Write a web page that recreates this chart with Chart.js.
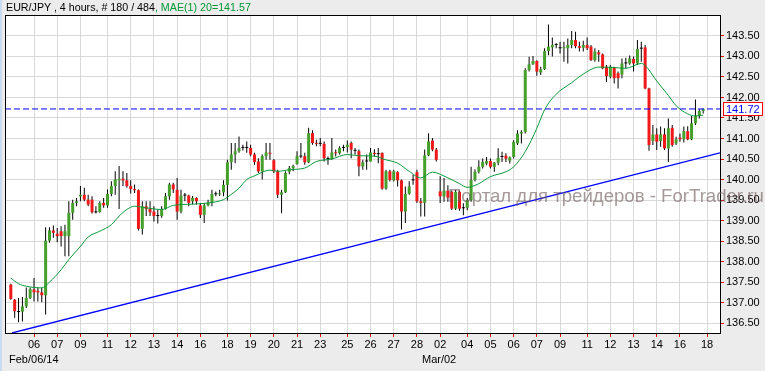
<!DOCTYPE html>
<html>
<head>
<meta charset="utf-8">
<script src="https://cdn.jsdelivr.net/npm/chart.js@4.4.1/dist/chart.umd.min.js"></script>
<style>
  body { margin: 0; background: #ececec; }
  #wrap { position: relative; width: 765px; height: 371px; overflow: hidden; font-family: "Liberation Sans", Arial, sans-serif; }
  #chart { position: absolute; left: 0; top: 0; }
  .txt { position: absolute; font-size: 11px; line-height: 14px; white-space: nowrap; color: #000; }
  #strip { position: absolute; left: 0; top: 0; width: 2px; height: 371px; background: #c8dbf0; }
  #mark { position: absolute; left: 448px; top: 186px; font-size: 18.6px; line-height: 19px; white-space: nowrap; color: rgba(110, 90, 90, 0.62); pointer-events: none; }
</style>
</head>
<body>
<div id="wrap">
  <canvas id="chart" width="765" height="371"></canvas>
  <div id="strip"></div>
  <div class="txt" style="left:6px; top:0px; font-size:10.7px;">EUR/JPY , 4 hours, # 180 / 484<span style="color:#009933">, MAE(1) 20=141.57</span></div>
  <div class="txt" style="left:9px; top:352px;">Feb/06/14</div>
  <div class="txt" style="left:422px; top:352px;">Mar/02</div>
  <div id="mark">Портал для трейдеров - ForTrader.ru</div>
</div>
<script>
// EUR/JPY 4h bars (bar index 0..179)
const opens = [
  137.44, 137.07, 136.77, 136.78, 136.91, 137.11, 137.32, 137.29, 137.25, 137.18,
  138.51, 138.76, 138.68, 138.74, 138.62, 138.62, 139.19, 139.43, 139.59, 139.63,
  139.51, 139.51, 139.21, 139.21, 139.43, 139.37, 139.65, 139.84, 139.98, 140.02,
  139.98, 139.84, 139.77, 139.74, 138.80, 139.35, 139.28, 139.22, 139.11, 139.11,
  139.28, 139.59, 139.88, 139.75, 139.22, 139.61, 139.61, 139.47, 139.55, 139.37,
  139.14, 139.37, 139.44, 139.65, 139.64, 139.69, 139.87, 140.42, 140.61, 140.69,
  140.77, 140.78, 140.77, 140.61, 140.44, 140.20, 140.57, 140.65, 140.47, 140.20,
  139.63, 139.69, 140.19, 140.28, 140.38, 140.57, 140.57, 140.42, 141.13, 140.89,
  140.87, 140.87, 140.50, 140.50, 140.66, 140.64, 140.77, 140.79, 140.89, 140.71,
  140.69, 140.32, 140.44, 140.44, 140.65, 140.63, 140.65, 139.78, 140.20, 139.98,
  140.18, 139.98, 139.22, 139.65, 139.98, 140.18, 139.47, 139.43, 140.59, 140.95,
  140.73, 139.71, 139.59, 139.73, 139.70, 139.29, 139.70, 139.31, 139.31, 139.50,
  139.99, 140.19, 140.31, 140.39, 140.45, 140.31, 140.41, 140.55, 140.58, 140.46,
  140.55, 140.88, 141.12, 141.16, 142.67, 142.81, 142.89, 142.61, 142.69, 143.13,
  143.22, 143.28, 143.20, 143.20, 143.20, 143.28, 143.40, 143.25, 143.21, 143.28,
  143.24, 142.91, 143.10, 143.05, 142.75, 142.51, 142.73, 142.59, 142.56, 142.83,
  142.83, 142.94, 142.83, 143.19, 143.22, 142.22, 140.94, 141.10, 140.94, 141.10,
  140.76, 141.26, 140.88, 141.02, 140.98, 141.18, 140.98, 141.37, 141.55, 141.67
];
const highs = [
  137.46, 137.09, 137.11, 137.14, 137.37, 137.37, 137.60, 137.37, 137.36, 138.84,
  138.84, 138.88, 138.82, 138.86, 138.90, 139.47, 139.51, 139.55, 139.84, 139.80,
  139.63, 139.59, 139.35, 139.47, 139.55, 139.76, 139.96, 140.20, 140.33, 140.20,
  140.16, 139.98, 139.88, 139.76, 139.47, 139.47, 139.47, 139.35, 139.27, 139.35,
  139.67, 139.92, 139.92, 140.04, 139.75, 139.67, 139.63, 139.60, 139.57, 139.43,
  139.43, 139.51, 139.75, 139.71, 139.75, 139.98, 140.48, 140.89, 140.89, 141.05,
  140.85, 140.93, 140.85, 140.65, 140.52, 140.61, 140.89, 140.89, 140.50, 140.24,
  139.75, 140.20, 140.33, 140.36, 140.69, 140.89, 140.65, 141.26, 141.20, 140.97,
  141.01, 140.93, 140.56, 141.01, 140.73, 140.81, 140.85, 140.95, 140.93, 140.77,
  140.73, 140.48, 140.61, 140.77, 140.74, 140.77, 140.66, 140.24, 140.24, 140.24,
  140.20, 140.00, 139.83, 139.96, 140.12, 140.24, 139.55, 140.73, 141.13, 141.01,
  140.77, 140.08, 140.04, 139.86, 139.73, 139.75, 139.73, 139.42, 139.55, 140.31,
  140.25, 140.47, 140.51, 140.55, 140.51, 140.43, 140.76, 140.68, 140.64, 140.56,
  140.96, 141.20, 141.20, 142.71, 142.99, 143.01, 142.91, 142.75, 143.20, 143.78,
  143.46, 143.32, 143.36, 143.36, 143.44, 143.62, 143.60, 143.36, 143.38, 143.46,
  143.28, 143.20, 143.16, 143.07, 142.79, 142.79, 142.75, 142.63, 142.95, 142.97,
  143.02, 143.00, 143.40, 143.36, 143.28, 142.24, 141.33, 141.25, 141.29, 141.25,
  141.49, 141.33, 141.04, 141.12, 141.29, 141.30, 141.55, 141.95, 141.71, 141.73
];
const lows = [
  137.07, 136.63, 136.52, 136.54, 136.87, 137.09, 137.03, 137.03, 137.01, 136.71,
  138.46, 138.58, 138.47, 138.37, 138.13, 138.13, 139.02, 139.35, 139.47, 139.47,
  139.35, 139.17, 139.17, 139.19, 139.31, 139.31, 139.59, 139.63, 139.28, 139.84,
  139.80, 139.66, 139.67, 138.76, 138.66, 139.11, 139.11, 138.98, 138.93, 139.07,
  139.27, 139.51, 139.67, 139.02, 139.18, 139.47, 139.35, 139.40, 139.39, 139.06,
  138.94, 139.35, 139.35, 139.59, 139.60, 139.59, 139.49, 140.24, 140.40, 140.65,
  140.71, 140.65, 140.57, 140.36, 140.16, 140.00, 140.48, 140.48, 140.16, 139.55,
  139.18, 139.67, 140.13, 140.20, 140.36, 140.52, 140.36, 140.40, 140.85, 140.81,
  140.81, 140.44, 140.36, 140.48, 140.56, 140.61, 140.69, 140.66, 140.52, 140.61,
  140.08, 140.24, 140.24, 140.44, 140.56, 140.40, 139.75, 139.75, 139.95, 139.95,
  139.83, 138.78, 138.94, 139.63, 139.87, 139.43, 139.10, 139.10, 140.57, 140.69,
  140.44, 139.43, 139.46, 139.46, 139.26, 139.26, 139.24, 139.13, 139.25, 139.46,
  139.95, 140.15, 140.27, 140.35, 140.27, 140.19, 140.35, 140.43, 140.43, 140.39,
  140.51, 140.84, 140.88, 141.12, 142.63, 142.79, 142.53, 142.55, 142.67, 143.03,
  143.00, 143.20, 143.07, 142.87, 142.83, 143.20, 143.20, 143.12, 143.12, 143.16,
  142.89, 142.87, 142.87, 142.69, 142.38, 142.47, 142.34, 142.22, 142.47, 142.71,
  142.80, 142.63, 142.79, 142.87, 142.20, 140.70, 140.84, 140.72, 140.80, 140.72,
  140.43, 140.80, 140.84, 140.92, 140.90, 140.96, 140.96, 141.33, 141.49, 141.61
];
const closes = [
  137.09, 136.79, 136.78, 136.91, 137.11, 137.33, 137.25, 137.25, 137.18, 138.51,
  138.76, 138.70, 138.62, 138.62, 138.74, 139.19, 139.43, 139.47, 139.63, 139.51,
  139.39, 139.20, 139.20, 139.43, 139.37, 139.65, 139.84, 140.00, 140.02, 139.98,
  139.84, 139.77, 139.74, 138.80, 139.35, 139.28, 139.20, 139.11, 139.11, 139.28,
  139.59, 139.88, 139.76, 139.22, 139.61, 139.62, 139.43, 139.55, 139.47, 139.14,
  139.37, 139.44, 139.65, 139.64, 139.66, 139.87, 140.42, 140.61, 140.69, 140.77,
  140.78, 140.77, 140.61, 140.43, 140.20, 140.57, 140.66, 140.63, 140.20, 139.63,
  139.69, 140.16, 140.28, 140.33, 140.57, 140.56, 140.42, 141.13, 140.89, 140.87,
  140.88, 140.52, 140.51, 140.66, 140.64, 140.77, 140.78, 140.85, 140.73, 140.70,
  140.32, 140.42, 140.45, 140.66, 140.62, 140.62, 139.78, 140.20, 139.99, 140.20,
  139.98, 139.22, 139.65, 139.83, 139.99, 139.47, 139.43, 140.59, 140.93, 140.73,
  140.48, 139.59, 139.73, 139.56, 139.29, 139.70, 139.29, 139.30, 139.50, 139.99,
  140.19, 140.31, 140.43, 140.45, 140.31, 140.41, 140.53, 140.56, 140.51, 140.54,
  140.92, 141.12, 141.16, 142.67, 142.81, 142.89, 142.63, 142.69, 143.13, 143.24,
  143.28, 143.29, 143.21, 143.22, 143.28, 143.40, 143.25, 143.21, 143.28, 143.20,
  142.91, 143.12, 143.05, 142.71, 142.52, 142.75, 142.47, 142.47, 142.83, 142.84,
  142.95, 142.83, 143.18, 143.20, 142.22, 140.84, 141.10, 140.92, 141.10, 140.76,
  141.25, 140.84, 140.98, 140.98, 141.18, 140.98, 141.37, 141.55, 141.67, 141.72
];

// 20-period moving average, sampled along the line
const maBars = [0, 2, 4, 8, 10, 13, 15, 18, 20, 23, 26, 28, 30, 32, 35, 39, 42, 47, 51, 55, 56, 59, 61, 63, 67,
  69, 72, 76, 79, 83, 87, 90, 94, 97, 100, 103, 106, 109, 113, 116, 118, 121, 124, 128, 130, 133, 136, 138,
  141, 145, 148, 152, 156, 159, 163, 164, 167, 170, 172, 175, 177, 179];
const maValues = [137.60, 137.46, 137.40, 137.36, 137.50, 137.80, 138.05, 138.37, 138.60, 138.74, 138.90, 139.11,
  139.27, 139.35, 139.31, 139.27, 139.37, 139.40, 139.43, 139.51, 139.57, 139.79, 140.00, 140.09, 140.23,
  140.20, 140.24, 140.28, 140.44, 140.50, 140.61, 140.58, 140.57, 140.48, 140.40, 140.20, 140.04, 140.18,
  140.04, 139.90, 139.81, 139.90, 140.07, 140.19, 140.31, 140.68, 141.25, 141.70, 142.08, 142.36, 142.57,
  142.74, 142.73, 142.71, 142.83, 142.78, 142.40, 142.05, 141.80, 141.60, 141.55, 141.57];

// trend line end points and horizontal level
const trendBars = [0.3, 183.35];
const trendPrices = [136.26, 140.65];
const levelPrice = 141.72;

// axis ticks
const dayTickBars = [6, 12, 18, 25, 31, 37, 43, 49, 56, 62, 68, 74, 80, 87, 93, 99, 105, 111,
  118, 124, 130, 136, 142, 149, 155, 161, 167, 173, 180];
const dayTickLabels = ['06', '07', '09', '11', '12', '13', '14', '16', '18', '19', '20', '21', '23', '25', '26',
  '27', '28', '02', '04', '05', '06', '07', '09', '11', '12', '13', '14', '16', '18'];
const priceTicks = [136.5, 137.0, 137.5, 138.0, 138.5, 139.0, 139.5, 140.0, 140.5, 141.0, 141.5, 142.0, 142.5, 143.0, 143.5];

const wickData = highs.map((h, i) => ({ x: i, y: [lows[i], h] }));
const bodyData = opens.map((o, i) => ({ x: i, y: [Math.min(o, closes[i]), Math.max(o, closes[i])] }));
const bodyColors = opens.map((o, i) => {
  if (Math.abs(closes[i] - o) < 0.015) return '#000000';
  return closes[i] > o ? '#44a02a' : '#f01818';
});
const maData = maBars.map((b, i) => ({ x: b, y: maValues[i] }));
const trendData = trendBars.map((b, i) => ({ x: b, y: trendPrices[i] }));

Chart.defaults.font.family = '"Liberation Sans", Arial, sans-serif';
Chart.defaults.font.size = 11;
Chart.defaults.color = '#000';

// white plot, black frame, last price box
const framePlugin = {
  id: 'frame',
  beforeDraw(chart) {
    const a = chart.chartArea, c = chart.ctx;
    c.save();
    c.fillStyle = '#ffffff';
    c.fillRect(a.left, a.top, a.right - a.left, a.bottom - a.top);
    c.restore();
  },
  afterDraw(chart) {
    const a = chart.chartArea, c = chart.ctx;
    c.save();
    c.strokeStyle = '#000';
    c.lineWidth = 1;
    c.strokeRect(a.left + 0.5, a.top + 0.5, a.right - a.left, a.bottom - a.top);
    const last = closes[closes.length - 1];
    const y = Math.round(chart.scales.y.getPixelForValue(last));
    c.fillStyle = '#fff';
    c.fillRect(a.right + 3, y - 6, 39, 13);
    c.strokeStyle = '#ff0000';
    c.strokeRect(a.right + 3.5, y - 6.5, 39, 13);
    c.fillStyle = '#0000ff';
    c.font = '11px "Liberation Sans", Arial, sans-serif';
    c.textBaseline = 'middle';
    c.fillText(last.toFixed(2), a.right + 6, y + 0.5);
    c.restore();
  }
};

let ctx = document.getElementById('chart').getContext('2d');
let candleChart = new Chart(ctx, {
  type: 'bar',
  data: {
    datasets: [
      {
        type: 'line', label: 'level', data: [{ x: -1.5, y: levelPrice }, { x: 183.35, y: levelPrice }],
        borderColor: '#0000ff', borderWidth: 1, borderDash: [6, 3], pointRadius: 0, order: 0
      },
      {
        type: 'line', label: 'trend', data: trendData,
        borderColor: '#0000ff', borderWidth: 1.3, pointRadius: 0, order: 1
      },
      {
        type: 'line', label: 'MAE 20', data: maData,
        borderColor: '#0a9a3a', borderWidth: 1, pointRadius: 0, cubicInterpolationMode: 'monotone', order: 2
      },
      {
        label: 'bodies', data: bodyData, backgroundColor: bodyColors,
        barThickness: 3, grouped: false, minBarLength: 1, inflateAmount: 0, order: 3
      },
      {
        label: 'wicks', data: wickData, backgroundColor: '#000000',
        barThickness: 1, grouped: false, inflateAmount: 0, order: 4
      }
    ]
  },
  options: {
    responsive: false,
    devicePixelRatio: 1,
    animation: false,
    layout: { padding: { left: 5, top: 15, right: 0, bottom: 0 } },
    plugins: {
      legend: { display: false },
      tooltip: { enabled: false }
    },
    scales: {
      x: {
        type: 'linear',
        min: -1.5,
        max: 183.35,
        offset: false,
        afterFit: (s) => { s.height = 38; },
        afterBuildTicks: (s) => { s.ticks = dayTickBars.map(v => ({ value: v })); },
        ticks: {
          autoSkip: false, maxRotation: 0, padding: 1, color: '#000',
          callback: (v, i) => dayTickLabels[i]
        },
        grid: { color: '#d9d9d9', tickColor: '#ff0000', tickLength: 4, offset: false },
        border: { display: false }
      },
      y: {
        position: 'right',
        min: 136.26,
        max: 144.01,
        beginAtZero: false,
        afterFit: (s) => { s.width = 45; },
        afterBuildTicks: (s) => { s.ticks = priceTicks.map(v => ({ value: v })); },
        ticks: { padding: 2, color: '#000', callback: (v) => Number(v).toFixed(2) },
        grid: { color: '#d9d9d9', tickColor: '#ff0000', tickLength: 4 },
        border: { display: false }
      }
    }
  },
  plugins: [framePlugin]
});
</script>
</body>
</html>
